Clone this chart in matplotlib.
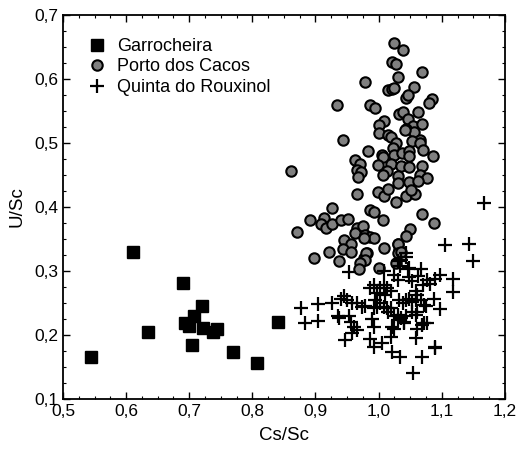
import numpy as np
import matplotlib
matplotlib.use('Agg')
from matplotlib import pyplot as plot
from matplotlib.ticker import MultipleLocator, FuncFormatter

plot.rcParams['font.family'] = ['Liberation Sans', 'DejaVu Sans']

# Garrocheira
garro_cs = [0.544, 0.611, 0.634, 0.690, 0.694, 0.699, 0.707, 0.705, 0.721, 0.722,
            0.737, 0.744, 0.770, 0.808, 0.841]
garro_u = [0.166, 0.330, 0.205, 0.282, 0.218, 0.214, 0.229, 0.184, 0.246, 0.211,
           0.204, 0.209, 0.173, 0.157, 0.221]

# Porto dos Cacos
porto_cs = [1.024, 1.038, 1.021, 1.027, 1.030, 1.068, 0.978, 1.015, 1.021, 1.025,
            1.056, 1.044, 1.047, 0.934, 0.986, 0.994, 1.085, 1.080, 1.032, 1.039,
            1.063, 1.008, 1.000, 1.047, 1.054, 1.043, 1.069, 1.000, 1.015, 1.020,
            1.056, 0.944, 1.066, 1.042, 1.027, 1.023, 1.053, 1.065, 0.984, 1.070,
            1.006, 1.007, 1.025, 1.037, 1.048, 1.048, 1.086, 0.962, 0.970, 0.999,
            1.019, 1.036, 1.048, 1.069, 0.862, 0.965, 0.972, 0.968, 1.014, 1.007,
            1.030, 1.065, 1.077, 1.048, 1.062, 1.030, 0.966, 0.999, 1.008, 1.015,
            1.044, 1.058, 1.051, 1.027, 0.926, 0.986, 0.993, 1.069, 0.892, 0.913,
            0.908, 0.917, 0.926, 0.941, 0.952, 1.007, 1.088, 0.871, 0.965, 0.962,
            0.975, 0.979, 0.986, 0.993, 0.977, 1.049, 1.043, 0.945, 0.956, 0.944,
            0.957, 0.922, 0.897, 1.008, 1.031, 1.033, 0.981, 0.977, 0.937, 0.980,
            0.979, 0.971, 0.969, 1.000, 1.030, 1.030, 1.027, 1.036]
porto_u = [0.657, 0.645, 0.627, 0.623, 0.604, 0.611, 0.595, 0.583, 0.584, 0.586,
           0.587, 0.571, 0.575, 0.559, 0.559, 0.555, 0.569, 0.562, 0.546, 0.548,
           0.548, 0.535, 0.528, 0.537, 0.527, 0.522, 0.530, 0.516, 0.512, 0.509,
           0.518, 0.505, 0.505, 0.520, 0.500, 0.493, 0.503, 0.500, 0.488, 0.489,
           0.482, 0.478, 0.482, 0.484, 0.487, 0.479, 0.479, 0.473, 0.467, 0.466,
           0.468, 0.464, 0.462, 0.464, 0.457, 0.458, 0.454, 0.447, 0.457, 0.450,
           0.448, 0.450, 0.446, 0.439, 0.440, 0.437, 0.421, 0.424, 0.417, 0.428,
           0.417, 0.421, 0.427, 0.408, 0.398, 0.395, 0.393, 0.389, 0.379, 0.383,
           0.373, 0.367, 0.373, 0.380, 0.381, 0.379, 0.375, 0.361, 0.367, 0.360,
           0.370, 0.357, 0.353, 0.351, 0.351, 0.366, 0.354, 0.348, 0.342, 0.335,
           0.330, 0.329, 0.321, 0.336, 0.342, 0.333, 0.328, 0.320, 0.315, 0.328,
           0.317, 0.312, 0.303, 0.305, 0.343, 0.328, 0.312, 0.330]

# Quinta do Rouxinol
quinta_cs = [1.105, 1.144, 1.150, 1.167, 1.044, 1.031, 1.034, 1.047, 0.953, 1.008,
             1.067, 1.062, 1.024, 1.030, 1.048, 1.053, 1.077, 1.090, 1.097, 1.118,
             1.118, 0.987, 0.993, 1.003, 1.013, 1.019, 1.008, 1.059, 1.061, 1.067,
             1.087, 1.097, 1.075, 0.945, 0.941, 0.950, 0.877, 0.904, 0.926, 0.883,
             0.904, 0.935, 0.938, 0.958, 0.965, 0.974, 0.979, 0.995, 0.993, 0.998,
             1.003, 1.008, 1.013, 1.019, 1.032, 1.038, 1.043, 1.048, 1.053, 1.059,
             1.024, 1.030, 1.035, 1.040, 1.053, 1.059, 1.072, 1.077, 1.069, 0.953,
             0.956, 0.961, 0.966, 0.958, 0.993, 1.022, 1.019, 1.061, 1.060, 0.947,
             0.986, 0.993, 1.006, 1.022, 1.034, 1.069, 1.090, 1.055, 1.089, 1.035,
             1.043, 1.048, 1.072, 1.061, 1.024, 1.040, 1.043, 1.030, 1.010, 0.998,
             1.070, 1.015, 1.082, 0.990]
quinta_u = [0.341, 0.342, 0.316, 0.407, 0.328, 0.316, 0.308, 0.303, 0.299, 0.300,
            0.303, 0.292, 0.294, 0.286, 0.291, 0.285, 0.286, 0.287, 0.294, 0.287,
            0.267, 0.273, 0.278, 0.273, 0.273, 0.268, 0.278, 0.268, 0.263, 0.255,
            0.256, 0.241, 0.245, 0.261, 0.256, 0.255, 0.242, 0.248, 0.250, 0.218,
            0.222, 0.229, 0.226, 0.250, 0.250, 0.243, 0.245, 0.255, 0.242, 0.244,
            0.250, 0.244, 0.242, 0.242, 0.255, 0.250, 0.255, 0.257, 0.252, 0.255,
            0.229, 0.223, 0.226, 0.221, 0.236, 0.231, 0.218, 0.219, 0.216, 0.229,
            0.221, 0.213, 0.208, 0.203, 0.213, 0.213, 0.197, 0.210, 0.195, 0.192,
            0.193, 0.181, 0.187, 0.174, 0.165, 0.166, 0.181, 0.140, 0.179, 0.317,
            0.322, 0.304, 0.247, 0.236, 0.210, 0.218, 0.229, 0.231, 0.262, 0.265,
            0.278, 0.236, 0.280, 0.225]


def decimal_comma(v, pos):
    return '{:.1f}'.format(v).replace('.', ',')


fig = plot.figure(figsize=(5.18, 4.49), dpi=100)
ax = fig.add_axes([0.1216, 0.1114, 0.853, 0.855])

ax.plot(garro_cs, garro_u, ls='None', marker='s', markersize=8, color='black',
        label='Garrocheira')
ax.plot(porto_cs, porto_u, ls='None', marker='o', markersize=7.5, markerfacecolor='#808080',
        markeredgecolor='black', markeredgewidth=1.5, label='Porto dos Cacos')
ax.plot(quinta_cs, quinta_u, ls='None', marker='+', markersize=10, markeredgewidth=1.6,
        color='black', label='Quinta do Rouxinol')

ax.set_xlim(0.5, 1.2)
ax.set_ylim(0.1, 0.7)
ax.xaxis.set_major_locator(MultipleLocator(0.1))
ax.xaxis.set_minor_locator(MultipleLocator(0.025))
ax.yaxis.set_major_locator(MultipleLocator(0.1))
ax.yaxis.set_minor_locator(MultipleLocator(0.025))
ax.xaxis.set_major_formatter(FuncFormatter(decimal_comma))
ax.yaxis.set_major_formatter(FuncFormatter(decimal_comma))
ax.tick_params(which='both', direction='in', top=True, right=True, labelsize=12.5)
ax.tick_params(which='major', length=5, width=1)
ax.tick_params(which='minor', length=2.5, width=0.8)
for side in ax.spines.values():
    side.set_linewidth(1.3)

ax.set_xlabel('Cs/Sc', fontsize=13.5, labelpad=6)
ax.set_ylabel('U/Sc', fontsize=13.5, labelpad=6)

ax.legend(loc='upper left', bbox_to_anchor=(0.016, 0.983), frameon=False, fontsize=13,
          numpoints=1, handletextpad=0.5, labelspacing=0.2, handlelength=1.2)

fig.savefig('out.png', dpi=100)
